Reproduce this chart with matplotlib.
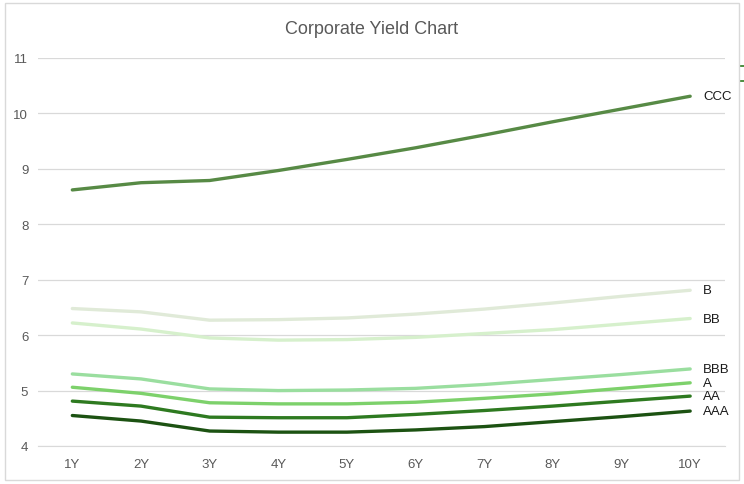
import matplotlib
matplotlib.use("Agg")
import matplotlib.pyplot as plt
from matplotlib.patches import Rectangle
from matplotlib.lines import Line2D

tenors = ["1Y", "2Y", "3Y", "4Y", "5Y", "6Y", "7Y", "8Y", "9Y", "10Y"]
ccc = [8.62, 8.75, 8.79, 8.97, 9.17, 9.38, 9.61, 9.85, 10.08, 10.31]
b   = [6.48, 6.42, 6.27, 6.28, 6.31, 6.38, 6.47, 6.58, 6.70, 6.81]
bb  = [6.22, 6.11, 5.95, 5.91, 5.92, 5.96, 6.03, 6.10, 6.20, 6.30]
bbb = [5.30, 5.21, 5.03, 5.00, 5.01, 5.04, 5.11, 5.20, 5.29, 5.39]
a   = [5.06, 4.95, 4.78, 4.76, 4.76, 4.79, 4.86, 4.94, 5.04, 5.14]
aa  = [4.81, 4.72, 4.52, 4.51, 4.51, 4.57, 4.64, 4.72, 4.81, 4.90]
aaa = [4.55, 4.45, 4.27, 4.25, 4.25, 4.29, 4.35, 4.44, 4.53, 4.63]

series_names = ["CCC", "B", "BB", "BBB", "A", "AA", "AAA"]
series_vals = [ccc, b, bb, bbb, a, aa, aaa]
colors = ["#578A45", "#E0EAD8", "#D6F0CC", "#9ADE9F", "#7DD16B", "#2E7A20", "#1C5212"]
yticks = [4, 5, 6, 7, 8, 9, 10, 11]

plt.rcParams['font.family'] = ['Liberation Sans', 'DejaVu Sans']

fig = plt.figure(figsize=(7.44, 4.85), dpi=100)
fig.patches.append(Rectangle((5/744, 4/485), 733.5/744, 477/485, transform=fig.transFigure,
                             fill=False, edgecolor="#D9D9D9", linewidth=1.0))
for yy in (67, 82):
    fig.lines.append(Line2D([741/744, 744/744], [1 - yy/485, 1 - yy/485],
                            transform=fig.transFigure, color="#2E7A20", linewidth=1.2))

ax = fig.add_axes([38/744, 1 - 447/485, (724.5 - 38)/744, (447 - 59)/485])
x = list(range(len(tenors)))
for name, vals, c in zip(series_names, series_vals, colors):
    ax.plot(x, vals, color=c, linewidth=2.4, solid_capstyle="round")
    ax.text(x[-1] + 0.19, vals[-1], name, va="center", ha="left", fontsize=9.5, color="#1a1a1a")

ax.set_xlim(-0.5, len(tenors) - 0.5)
ax.set_ylim(4, 11)
ax.set_yticks(yticks)
ax.set_xticks(x)
ax.set_xticklabels(tenors)
ax.grid(axis="y", color="#D9D9D9", linewidth=0.9)
ax.set_axisbelow(True)
for s in ["top", "right", "left"]:
    ax.spines[s].set_visible(False)
ax.spines["bottom"].set_color("#D9D9D9")
ax.tick_params(axis="both", length=0, colors="#595959", labelsize=9.5)
ax.tick_params(axis="x", pad=9)
ax.tick_params(axis="y", pad=7)

fig.text(372/744, 1 - 29/485, "Corporate Yield Chart", ha="center", va="center",
         fontsize=13, color="#595959")

fig.savefig("out.png", dpi=100)
